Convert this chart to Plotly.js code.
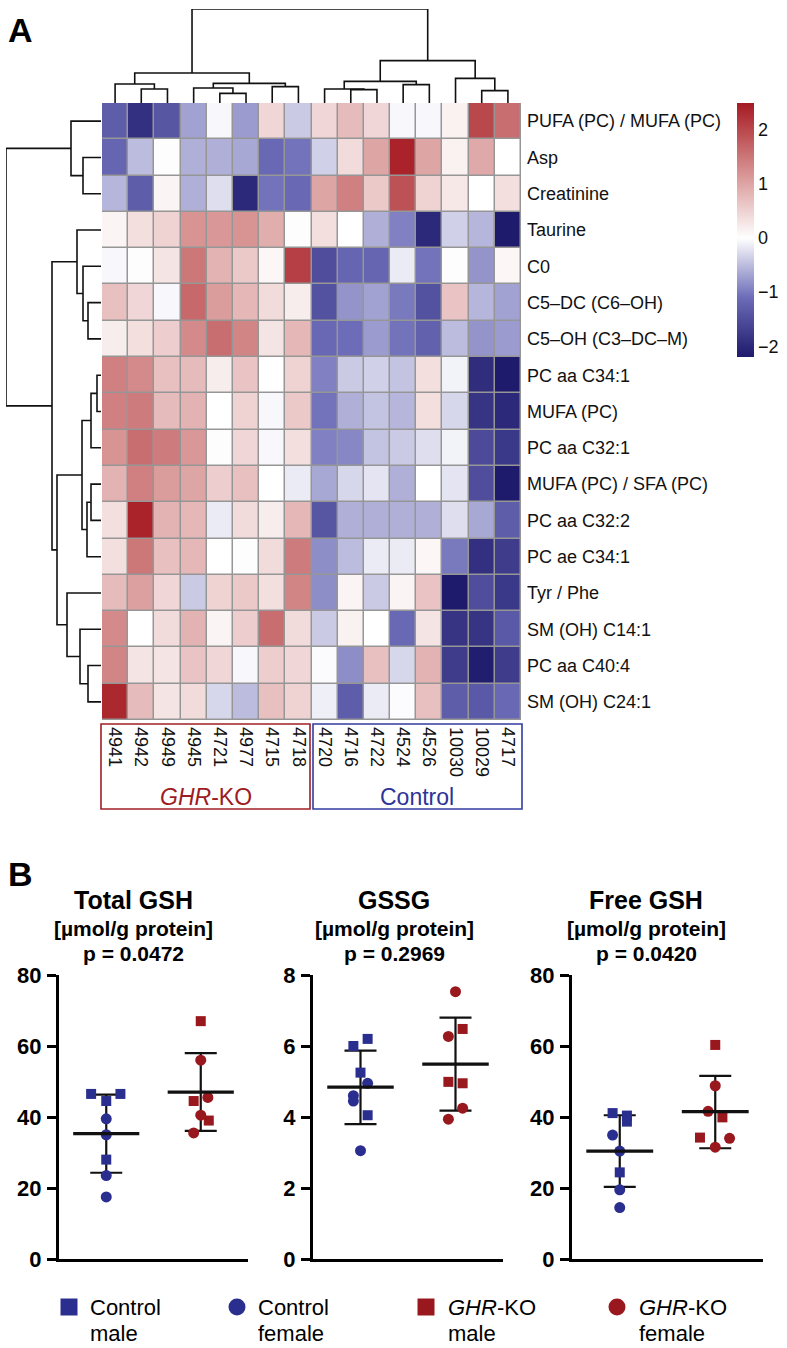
<!DOCTYPE html>
<html><head><meta charset="utf-8">
<script src="https://cdn.plot.ly/plotly-3.0.1.min.js"></script>
<style>html,body{margin:0;padding:0;background:#fff;}#chart{width:787px;height:1348px;}</style>
</head><body><div id="chart"></div>
<script>
// ---------------- DATA ----------------
const samples = ['4941','4942','4949','4945','4721','4977','4715','4718','4720','4716','4722','4524','4526','10030','10029','4717'];
const metabolites = ['PUFA (PC) / MUFA (PC)','Asp','Creatinine','Taurine','C0','C5\u2013DC (C6\u2013OH)','C5\u2013OH (C3\u2013DC\u2013M)','PC aa C34:1','MUFA (PC)','PC aa C32:1','MUFA (PC) / SFA (PC)','PC aa C32:2','PC ae C34:1','Tyr / Phe','SM (OH) C14:1','PC aa C40:4','SM (OH) C24:1'];
const zScores = [
 [-1.3,-1.9,-1.4,-0.7,-0.05,-0.75,0.45,-0.4,0.45,0.75,0.45,-0.05,-0.05,0.15,2.0,1.6],
 [-1.2,-0.5,0.02,-0.6,-0.6,-0.65,-1.15,-1.05,-0.35,0.4,1.0,2.4,1.0,0.15,0.95,0.0],
 [-0.55,-1.3,0.12,-0.6,-0.25,-2.0,-1.05,-1.15,1.0,1.4,0.6,1.9,0.5,0.25,0.0,0.35],
 [0.12,0.35,0.5,1.2,1.15,1.2,0.9,0.02,0.35,0.0,-0.6,-0.95,-2.0,-0.35,-0.55,-2.2],
 [-0.05,0.02,0.3,1.5,0.85,0.6,0.1,2.1,-1.5,-1.2,-1.2,-0.15,-1.05,0.02,-0.8,0.1],
 [0.7,0.45,-0.05,1.65,1.1,0.8,0.4,0.2,-1.45,-0.8,-0.7,-1.0,-1.45,0.65,-0.55,-0.7],
 [0.2,0.35,0.55,1.3,1.6,1.35,0.3,0.8,-1.15,-1.1,-0.75,-1.05,-1.25,-0.5,-0.8,-0.75],
 [1.4,1.3,0.7,0.75,0.2,0.65,0.0,0.5,-0.95,-0.4,-0.35,-0.45,0.35,-0.1,-1.95,-2.25],
 [1.4,1.45,0.75,0.85,0.0,0.5,-0.05,0.6,-1.05,-0.6,-0.45,-0.55,0.35,-0.3,-1.85,-2.0],
 [1.2,1.6,1.45,1.15,0.02,0.45,-0.05,0.35,-0.95,-0.9,-0.45,-0.4,-0.25,-0.1,-1.55,-1.8],
 [0.85,1.4,1.1,1.0,0.55,0.7,0.0,-0.15,-0.65,-0.3,-0.2,-0.6,0.0,-0.2,-1.5,-2.3],
 [0.35,2.4,0.85,0.8,-0.15,0.4,0.2,0.8,-1.4,-0.6,-0.6,-0.6,-0.6,-0.25,-0.65,-1.3],
 [0.35,1.5,0.7,0.8,0.0,0.02,0.4,1.45,-0.85,-0.5,-0.15,-0.15,0.1,-1.0,-1.9,-1.75],
 [0.75,1.05,0.45,-0.4,0.5,0.6,0.35,1.35,-0.85,0.12,-0.4,0.12,0.65,-2.2,-1.5,-1.8],
 [1.3,0.0,0.4,0.85,0.12,0.55,1.6,0.4,-0.4,0.15,0.0,-1.15,0.3,-1.85,-1.85,-1.35],
 [1.35,0.3,0.3,0.65,0.45,-0.05,0.55,0.45,-0.03,-0.85,0.7,-0.3,0.85,-1.75,-2.15,-1.75],
 [2.35,0.75,0.3,0.4,-0.3,-0.5,0.7,0.5,-0.12,-1.3,-0.15,-0.02,0.7,-1.3,-1.35,-1.15]
];
// hclust-style merges: [left, right, height]; negative = leaf (1-based position)
const colMerges = [[-2,-3,42],[-1,1,57],[-5,-6,29],[-4,3,45],[-7,-8,49],[4,5,59],[2,6,90],
 [-10,-11,40],[-9,8,42],[-12,-13,55],[9,10,65],[-15,-16,37],[-14,12,74],[11,13,127],[7,14,282]];
const rowMerges = [[-2,-3,18],[-1,1,30],[-6,-7,13],[-5,3,18],[-4,4,24],[-8,-9,4],[6,-10,10],
 [-11,-12,10],[8,-13,14],[7,9,19],[-16,-17,13],[-15,11,21],[-14,12,34],[10,13,44],[5,14,49],[2,15,95]];
const colorTicks = [-2,-1,0,1,2];

const panelTitles = ['Total GSH','GSSG','Free GSH'];
const panelPvals = ['p = 0.0472','p = 0.2969','p = 0.0420'];
const panelYmax = [80,8,80];
const panelTicks = [[0,20,40,60,80],[0,2,4,6,8],[0,20,40,60,80]];

const totalCtrlMale = [46.5,46.5,44.5,28.0];
const totalCtrlFemale = [39.5,35.0,23.5,17.5];
const totalKoMale = [67.0,44.5,39.0];
const totalKoFemale = [56.0,45.5,40.5,35.5];
const gssgCtrlMale = [6.0,6.2,5.25,4.05];
const gssgCtrlFemale = [4.95,4.6,4.45,3.05];
const gssgKoMale = [6.48,4.99,4.95];
const gssgKoFemale = [7.53,6.27,4.25,3.94];
const freeCtrlMale = [41.1,40.4,38.7,24.4];
const freeCtrlFemale = [34.9,30.4,19.5,14.5];
const freeKoMale = [60.3,39.9,34.2];
const freeKoFemale = [48.8,41.6,34.0,31.5];

const totalMean = [35.3,47.0], totalLow = [24.3,36.1], totalHigh = [46.3,58.0];
const gssgMean = [4.84,5.49], gssgLow = [3.80,4.18], gssgHigh = [5.87,6.80];
const freeMean = [30.4,41.5], freeLow = [20.3,31.2], freeHigh = [40.5,51.6];

// ---------------- LAYOUT HELPERS ----------------
const W = 787, H = 1348;
const px = x => x / W, py = y => 1 - y / H;
const FONT = 'Liberation Sans, Arial, Helvetica, sans-serif';
const BLUE = 'rgb(42,46,142)', RED = 'rgb(152,24,30)';
const ZMIN = -2.2, ZMAX = 2.5;
const w0 = (0 - ZMIN) / (ZMAX - ZMIN);
const colorscale = [[0,'rgb(30,26,108)'],[w0*0.5,'rgb(108,108,184)'],[w0,'rgb(255,255,255)'],[w0+(1-w0)*0.5,'rgb(214,142,142)'],[1,'rgb(166,26,34)']];

// jitter offsets (positions only)
const jit = {
  totalCtrlMale:[-0.16,0.15,0,0], totalCtrlFemale:[0,0,0,0], totalKoMale:[0,-0.075,0.085], totalKoFemale:[0,0.075,0,-0.075],
  gssgCtrlMale:[-0.075,0.075,0,0.075], gssgCtrlFemale:[0.075,-0.075,-0.075,0], gssgKoMale:[0.075,-0.075,0.075], gssgKoFemale:[0,-0.075,0.075,-0.075],
  freeCtrlMale:[-0.075,0.075,0.075,0], freeCtrlFemale:[-0.075,0,0,0], freeKoMale:[0,0.075,-0.16], freeKoFemale:[0,-0.075,0.15,0]
};

function dendro(merges){
  const pos=[], ht=[], P=[], Hh=[];
  const node = r => r < 0 ? {p:-r-1, h:0} : {p:pos[r-1], h:ht[r-1]};
  merges.forEach(m => {
    const a=node(m[0]), b=node(m[1]), h=m[2];
    P.push(a.p,a.p,b.p,b.p,null); Hh.push(a.h,h,h,b.h,null);
    pos.push((a.p+b.p)/2); ht.push(h);
  });
  return {p:P, h:Hh};
}

const traces = [];
const colIdx = samples.map((s,i)=>i), rowIdx = metabolites.map((s,i)=>i);
traces.push({type:'heatmap', z:zScores, x:colIdx, y:rowIdx, xaxis:'x', yaxis:'y',
  colorscale, zmin:ZMIN, zmax:ZMAX, xgap:1.5, ygap:1.5, hoverinfo:'skip',
  colorbar:{x:px(737), xanchor:'left', xpad:0, ypad:0, y:py(230), yanchor:'middle', len:254, lenmode:'pixels',
    thickness:17, thicknessmode:'pixels', outlinewidth:0, tickvals:colorTicks,
    ticktext:colorTicks.map(v=> v<0 ? '\u2212'+Math.abs(v) : String(v)), ticks:'', tickfont:{size:18,color:'#111',family:FONT}}});
const cd = dendro(colMerges);
traces.push({type:'scatter', mode:'lines', x:cd.p, y:cd.h, xaxis:'x2', yaxis:'y2', line:{color:'#111',width:1.6}, hoverinfo:'skip', connectgaps:false});
const rd = dendro(rowMerges);
traces.push({type:'scatter', mode:'lines', x:rd.h, y:rd.p, xaxis:'x3', yaxis:'y3', line:{color:'#111',width:1.6}, hoverinfo:'skip', connectgaps:false});

// panel B
const panels = [
  {ax:'4', cm:totalCtrlMale, cf:totalCtrlFemale, km:totalKoMale, kf:totalKoFemale, mean:totalMean, lo:totalLow, hi:totalHigh, j:['totalCtrlMale','totalCtrlFemale','totalKoMale','totalKoFemale']},
  {ax:'5', cm:gssgCtrlMale, cf:gssgCtrlFemale, km:gssgKoMale, kf:gssgKoFemale, mean:gssgMean, lo:gssgLow, hi:gssgHigh, j:['gssgCtrlMale','gssgCtrlFemale','gssgKoMale','gssgKoFemale']},
  {ax:'6', cm:freeCtrlMale, cf:freeCtrlFemale, km:freeKoMale, kf:freeKoFemale, mean:freeMean, lo:freeLow, hi:freeHigh, j:['freeCtrlMale','freeCtrlFemale','freeKoMale','freeKoFemale']}
];
panels.forEach(pn => {
  const xa='x'+pn.ax, ya='y'+pn.ax;
  [0,1].forEach(g => {
    const c = g+1;
    traces.push({type:'scatter', mode:'markers', x:[c], y:[pn.mean[g]], xaxis:xa, yaxis:ya, marker:{size:1,opacity:0}, hoverinfo:'skip',
      error_y:{type:'data', symmetric:false, array:[pn.hi[g]-pn.mean[g]], arrayminus:[pn.mean[g]-pn.lo[g]], width:16, thickness:2.2, color:'#111'}});
  });
  const groups = [[pn.cm,1,'square',BLUE,pn.j[0]],[pn.cf,1,'circle',BLUE,pn.j[1]],[pn.km,2,'square',RED,pn.j[2]],[pn.kf,2,'circle',RED,pn.j[3]]];
  groups.forEach(([vals,c,sym,col,jk]) => {
    traces.push({type:'scatter', mode:'markers', x:vals.map((v,i)=>c+jit[jk][i]), y:vals, xaxis:xa, yaxis:ya,
      marker:{symbol:sym, size: sym==='square'?10:11, color:col, line:{width:0}}, hoverinfo:'skip'});
  });
  [0,1].forEach(g => {
    const c = g+1;
    traces.push({type:'scatter', mode:'lines', x:[c-0.35,c+0.35], y:[pn.mean[g],pn.mean[g]], xaxis:xa, yaxis:ya, line:{color:'#111',width:3.2}, hoverinfo:'skip'});
  });
});

function ann(text, x, y, size, opts){
  return Object.assign({text, xref:'paper', yref:'paper', x:px(x), y:py(y), xanchor:'center', yanchor:'middle', showarrow:false,
    font:{size, color:'#000', family:FONT}}, opts||{});
}

const LEG_Y1 = 1307, LEG_Y2 = 1333, MK = 8.5, LF = 22;
const layout = {
  width:W, height:H, margin:{l:0,r:0,t:0,b:0}, paper_bgcolor:'white', plot_bgcolor:'rgba(0,0,0,0)', showlegend:false,
  font:{family:FONT, color:'#000'},
  xaxis:{domain:[px(102),px(521)], range:[-0.5,15.5], anchor:'y', tickvals:colIdx, ticktext:samples, tickangle:90, ticks:'',
    showgrid:false, zeroline:false, showline:false, tickfont:{size:18,color:'#111'}, ticklabelstandoff:6, fixedrange:true},
  yaxis:{domain:[py(720),py(103)], range:[16.5,-0.5], anchor:'x', side:'right', tickvals:rowIdx, ticktext:metabolites, ticks:'',
    showgrid:false, zeroline:false, showline:false, tickfont:{size:18,color:'#111'}, ticklabelstandoff:5, fixedrange:true},
  xaxis2:{domain:[px(102),px(521)], range:[-0.5,15.5], anchor:'y2', visible:false},
  yaxis2:{domain:[py(103),py(9)], range:[0,282], anchor:'x2', visible:false},
  xaxis3:{domain:[px(6),px(101)], range:[95,0], anchor:'y3', visible:false},
  yaxis3:{domain:[py(720),py(103)], range:[16.5,-0.5], anchor:'x3', visible:false},
  shapes:[
    {type:'rect', xref:'x', yref:'y', x0:-0.5, x1:15.5, y0:-0.5, y1:16.5, fillcolor:'rgb(150,150,150)', line:{color:'rgb(150,150,150)',width:1}, layer:'below'},
    {type:'rect', xref:'paper', yref:'paper', x0:px(101), x1:px(310), y0:py(809), y1:py(724), line:{color:'rgb(160,32,38)',width:1.6}},
    {type:'rect', xref:'paper', yref:'paper', x0:px(313), x1:px(522), y0:py(809), y1:py(724), line:{color:'rgb(50,60,160)',width:1.6}},
    {type:'rect', xref:'paper', yref:'paper', x0:px(69-MK), x1:px(69+MK), y0:py(LEG_Y1+MK), y1:py(LEG_Y1-MK), fillcolor:BLUE, line:{width:0}},
    {type:'circle', xref:'paper', yref:'paper', x0:px(237-MK), x1:px(237+MK), y0:py(LEG_Y1+MK), y1:py(LEG_Y1-MK), fillcolor:BLUE, line:{width:0}},
    {type:'rect', xref:'paper', yref:'paper', x0:px(426-MK), x1:px(426+MK), y0:py(LEG_Y1+MK), y1:py(LEG_Y1-MK), fillcolor:RED, line:{width:0}},
    {type:'circle', xref:'paper', yref:'paper', x0:px(617-MK), x1:px(617+MK), y0:py(LEG_Y1+MK), y1:py(LEG_Y1-MK), fillcolor:RED, line:{width:0}}
  ],
  annotations:[
    ann('<b>A</b>', 20, 30, 34),
    ann('<b>B</b>', 20, 874, 34),
    ann('<i>GHR</i>-KO', 206, 797, 23, {font:{size:23,color:'rgb(155,28,34)',family:FONT}}),
    ann('Control', 417, 797, 23, {font:{size:23,color:'rgb(45,52,150)',family:FONT}}),
    ann('Control', 88, LEG_Y1, LF, {xanchor:'left'}),
    ann('male', 88, LEG_Y2, LF, {xanchor:'left'}),
    ann('Control', 256, LEG_Y1, LF, {xanchor:'left'}),
    ann('female', 256, LEG_Y2, LF, {xanchor:'left'}),
    ann('<i>GHR</i>-KO', 446, LEG_Y1, LF, {xanchor:'left'}),
    ann('male', 446, LEG_Y2, LF, {xanchor:'left'}),
    ann('<i>GHR</i>-KO', 637, LEG_Y1, LF, {xanchor:'left'}),
    ann('female', 637, LEG_Y2, LF, {xanchor:'left'})
  ]
};
const axLeft = [59,313,572];
const axRight = [248,503,763];
const titleX = [133,394,646];
[0,1,2].forEach(i => {
  const n = String(i+4);
  layout['xaxis'+n] = {domain:[px(axLeft[i]), px(axRight[i])], range:[0.5,2.5], anchor:'y'+n, showline:true, linewidth:3, linecolor:'#000',
    ticks:'', showticklabels:false, showgrid:false, zeroline:false, fixedrange:true};
  layout['yaxis'+n] = {domain:[py(1259), py(975)], range:[0,panelYmax[i]], anchor:'x'+n, showline:true, linewidth:3, linecolor:'#000',
    ticks:'outside', ticklen:9, tickwidth:3, tickcolor:'#000', tickvals:panelTicks[i], tickfont:{size:22, weight:'bold', color:'#000'},
    showgrid:false, zeroline:false, fixedrange:true, ticklabelstandoff:1};
  layout.annotations.push(
    ann('<b>'+panelTitles[i]+'</b>', titleX[i], 900, 25),
    ann('<b>[\u00b5mol/g protein]</b>', titleX[i], 928, 21),
    ann('<b>'+panelPvals[i]+'</b>', titleX[i], 953, 21)
  );
});

Plotly.newPlot('chart', traces, layout, {staticPlot:true, displayModeBar:false});
</script></body></html>
